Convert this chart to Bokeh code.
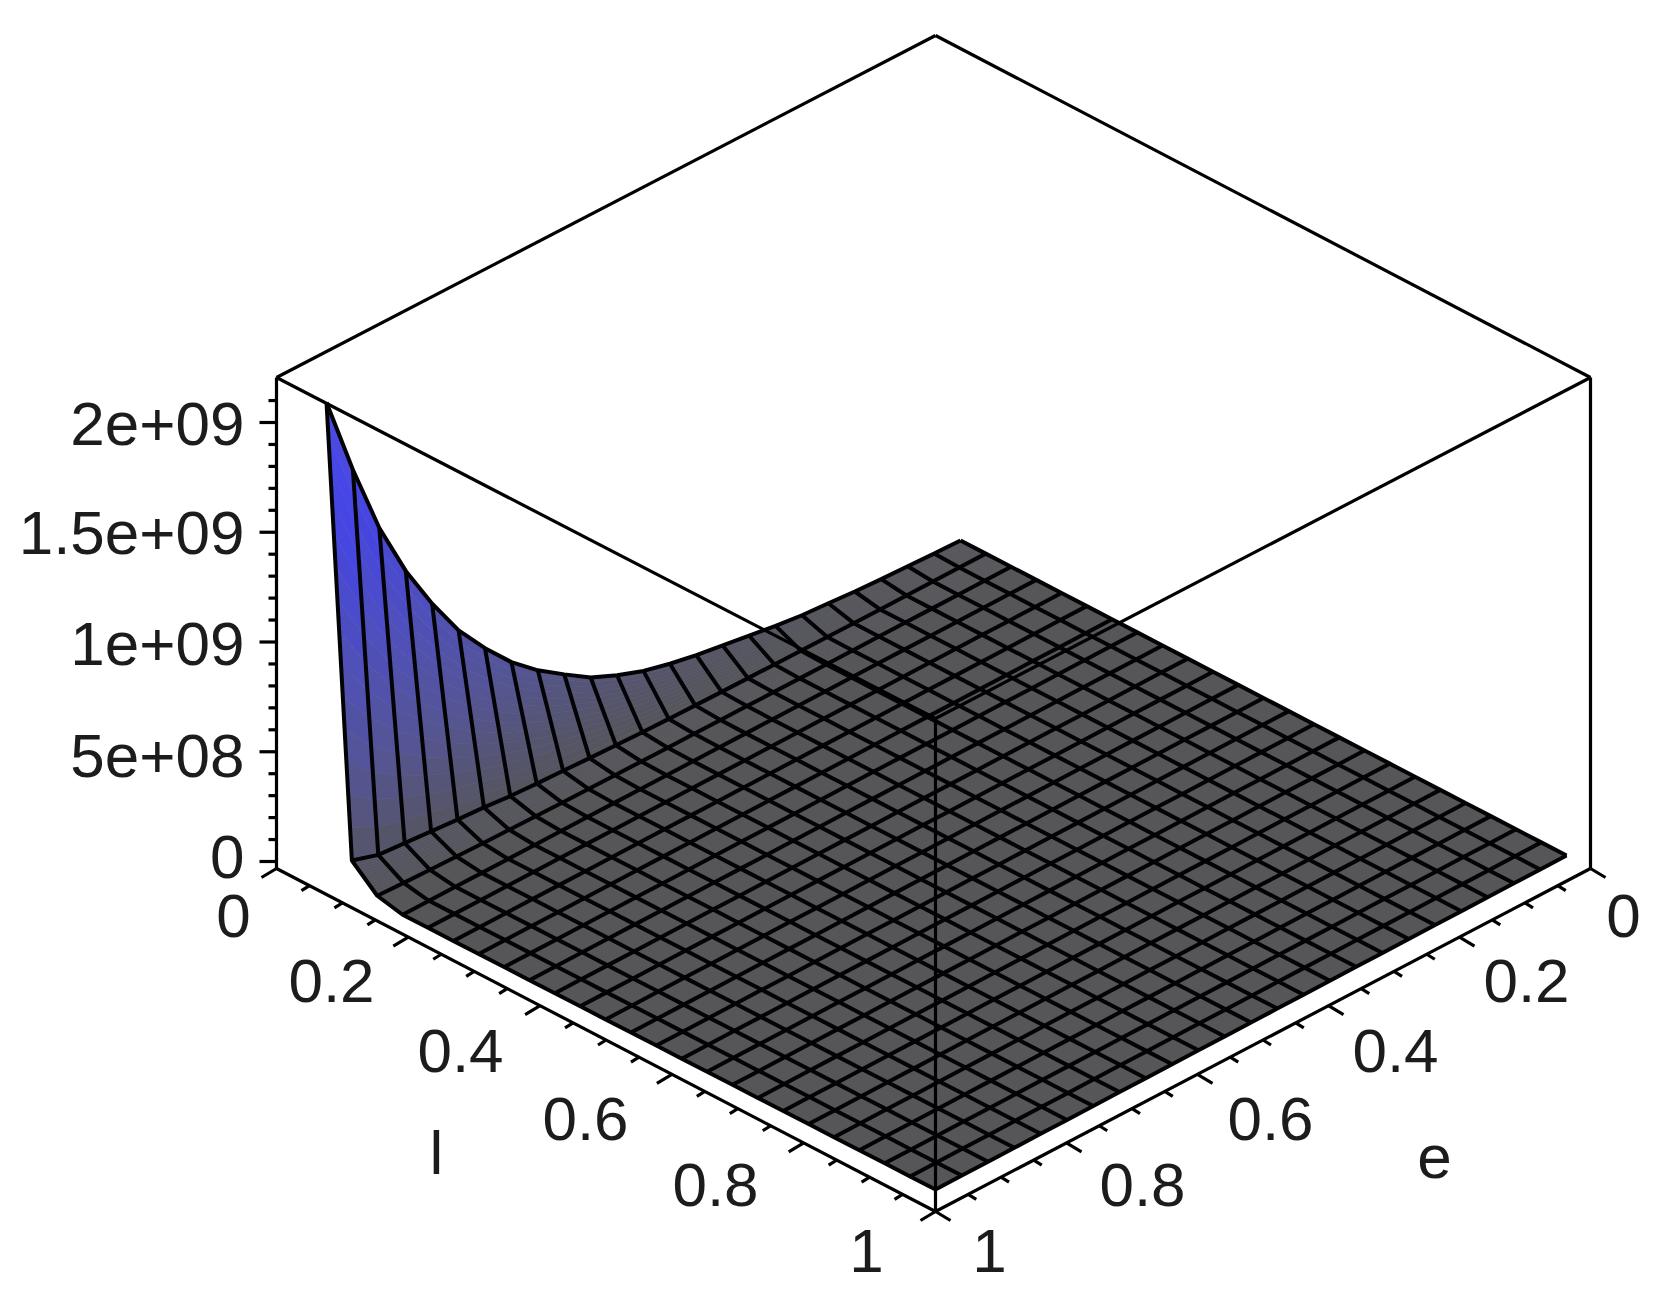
import numpy as np
from bokeh.plotting import figure
from bokeh.models import Range1d
from bokeh.core.properties import value
from bokeh.embed import file_html
from bokeh.resources import INLINE

# ---- data ----
n_grid = 25
# height of the surface along the l=0 edge, e = 0 .. 1 in 24 steps
z_l0 = [0, 0.004e9, 0.01e9, 0.015e9, 0.022e9, 0.032e9, 0.041e9, 0.056e9, 0.075e9, 0.094e9, 0.114e9, 0.138e9,
        0.169e9, 0.213e9, 0.266e9, 0.344e9, 0.426e9, 0.527e9, 0.654e9, 0.799e9, 0.984e9, 1.197e9,
        1.456e9, 1.785e9, 2.155e9]
# height along the next grid lines, l = 1/24 and l = 2/24
z_l1 = [0, 0, 0, 0, 0, 0.001e9, 0.002e9, 0.003e9, 0.004e9, 0.005e9, 0.006e9, 0.008e9, 0.01e9, 0.013e9, 0.017e9,
        0.022e9, 0.028e9, 0.033e9, 0.04e9, 0.052e9, 0.06e9, 0.07e9, 0.08e9, 0.09e9, 0.128e9]
z_l2 = [0, 0, 0, 0, 0, 0, 0, 0, 0, 0, 0.001e9, 0.001e9, 0.002e9, 0.002e9, 0.003e9, 0.004e9, 0.005e9, 0.006e9,
        0.008e9, 0.01e9, 0.012e9, 0.015e9, 0.018e9, 0.022e9, 0.027e9]
z_ticks_major = [0, 5e8, 1e9, 1.5e9, 2e9]
z_tick_labels = ["0", "5e+08", "1e+09", "1.5e+09", "2e+09"]
z_ticks_minor = [1e8, 2e8, 3e8, 4e8, 6e8, 7e8, 8e8, 9e8, 1.1e9, 1.2e9, 1.3e9, 1.4e9, 1.6e9, 1.7e9, 1.8e9, 1.9e9, 2.1e9]
ax_major = [0, 0.2, 0.4, 0.6, 0.8, 1]
ax_tick_labels = ["0", "0.2", "0.4", "0.6", "0.8", "1"]
ax_minor = [0.05, 0.1, 0.15, 0.25, 0.3, 0.35, 0.45, 0.5, 0.55, 0.65, 0.7, 0.75, 0.85, 0.9, 0.95]

# ---- layout (page pixels) ----
BOX_TOP_BACK = (935, 35)
BOX_TOP_L = (276, 377)
BOX_TOP_R = (1590, 377)
BOX_TOP_F = (935, 718)
BOX_BOT_L = (276, 868)
BOX_BOT_R = (1590, 868)
BOX_BOT_F = (935, 1211)
S_BACK = np.array([960.0, 540.0])
S_RIGHT = np.array([1566.0, 855.0])
S_FRONT = np.array([935.0, 1189.0])
S_LEFT = np.array([326.0, 875.0])
Z_PX = 219.5e-9
Z0_Y = 861

z_axis_label_x = 244
z_label_y = [856, 755, 643, 532, 423]
l_label_pos = [(233, 915), (331, 980), (460, 1050), (585, 1118), (715, 1184), (866, 1250)]
e_label_pos = [(1623, 915), (1526, 980), (1395, 1050), (1270, 1118), (1142, 1184), (989, 1250)]
TEXT = "#1c1c1c"
FONT = value("Liberation Sans")
FS = "62px"

p = figure(width=1660, height=1294, output_backend="svg", toolbar_location=None,
           x_range=Range1d(0, 1660), y_range=Range1d(1294, 0),
           min_border=0, outline_line_color=None, background_fill_color="white")
p.axis.visible = False
p.grid.visible = False


def project(l, e, z=0.0):
    base = (1 - l) * (1 - e) * S_BACK + l * (1 - e) * S_RIGHT + l * e * S_FRONT + (1 - l) * e * S_LEFT
    return float(base[0]), float(base[1] - z * Z_PX)


ls = np.linspace(0, 1, n_grid)
es = np.linspace(0, 1, n_grid)
Z = np.zeros((n_grid, n_grid))
Z[0, :] = z_l0
Z[1, :] = z_l1
Z[2, :] = z_l2

# flat part of the surface
xs, ys = [], []
for i in range(2, n_grid - 1):
    for j in range(n_grid - 1):
        pts = [project(ls[a], es[b], Z[a, b]) for a, b in ((i, j), (i + 1, j), (i + 1, j + 1), (i, j + 1))]
        xs.append([q[0] for q in pts])
        ys.append([q[1] for q in pts])
p.patches(xs, ys, fill_color="#565658", line_color="#565658", line_width=1)

# steep part: shaded by height, in bands across each grid cell
Z_STOPS = [0, 0.5e9, 1e9, 1.5e9, 1.85e9, 2.15e9]
R_STOPS = [86, 85, 80, 70, 72, 84]
B_STOPS = [90, 150, 188, 225, 235, 175]


def shade(z):
    r = int(np.interp(z, Z_STOPS, R_STOPS))
    b = int(np.interp(z, Z_STOPS, B_STOPS))
    return f"#{r:02x}{r:02x}{b:02x}"


xs, ys, cs = [], [], []
nb = 14
for i in range(2):
    for j in range(n_grid - 1):
        for t in range(nb):
            t0, t1 = t / nb, (t + 1) / nb
            l0, l1 = ls[i] + (ls[i + 1] - ls[i]) * t0, ls[i] + (ls[i + 1] - ls[i]) * t1
            za0 = Z[i, j] + (Z[i + 1, j] - Z[i, j]) * t0
            za1 = Z[i, j] + (Z[i + 1, j] - Z[i, j]) * t1
            zb0 = Z[i, j + 1] + (Z[i + 1, j + 1] - Z[i, j + 1]) * t0
            zb1 = Z[i, j + 1] + (Z[i + 1, j + 1] - Z[i, j + 1]) * t1
            pts = [project(l0, es[j], za0), project(l1, es[j], za1), project(l1, es[j + 1], zb1), project(l0, es[j + 1], zb0)]
            xs.append([q[0] for q in pts])
            ys.append([q[1] for q in pts])
            cs.append(shade((za0 + za1 + zb0 + zb1) / 4))
p.patches(xs, ys, fill_color=cs, line_color=cs, line_width=0.7)

# mesh lines
mx, my = [], []
for i in range(n_grid):
    pts = [project(ls[i], es[j], Z[i, j]) for j in range(n_grid)]
    mx.append([q[0] for q in pts]); my.append([q[1] for q in pts])
for j in range(n_grid):
    pts = [project(ls[i], es[j], Z[i, j]) for i in range(n_grid)]
    mx.append([q[0] for q in pts]); my.append([q[1] for q in pts])
p.multi_line(mx, my, line_color="#030305", line_width=4)

# box
edges = [(BOX_TOP_L, BOX_TOP_BACK), (BOX_TOP_BACK, BOX_TOP_R), (BOX_TOP_L, BOX_TOP_F), (BOX_TOP_R, BOX_TOP_F),
         (BOX_TOP_L, BOX_BOT_L), (BOX_TOP_R, BOX_BOT_R), (BOX_TOP_F, BOX_BOT_F),
         (BOX_BOT_L, BOX_BOT_F), (BOX_BOT_R, BOX_BOT_F)]
p.multi_line([[a[0], b[0]] for a, b in edges], [[a[1], b[1]] for a, b in edges], line_color="black", line_width=3.2)

# ticks
tx, ty = [], []
for v in z_ticks_major:
    y = Z0_Y - v * Z_PX
    tx.append([BOX_BOT_L[0], BOX_BOT_L[0] - 17]); ty.append([y, y])
for v in z_ticks_minor:
    y = Z0_Y - v * Z_PX
    tx.append([BOX_BOT_L[0], BOX_BOT_L[0] - 8]); ty.append([y, y])


def along(a, b, t):
    return a[0] + (b[0] - a[0]) * t, a[1] + (b[1] - a[1]) * t


for vals, dx, dy in ((ax_major, 15, 9), (ax_minor, 8, 5)):
    for v in vals:
        x, y = along(BOX_BOT_L, BOX_BOT_F, v)
        tx.append([x, x - dx]); ty.append([y, y + dy])
        x, y = along(BOX_BOT_R, BOX_BOT_F, v)
        tx.append([x, x + dx]); ty.append([y, y + dy])
p.multi_line(tx, ty, line_color="black", line_width=3.2)

# labels
p.text([z_axis_label_x] * 5, z_label_y, text=z_tick_labels, text_align="right", text_baseline="middle",
       text_font=FONT, text_font_size=FS, text_color=TEXT)
for pos in (l_label_pos, e_label_pos):
    p.text([q[0] for q in pos], [q[1] for q in pos], text=ax_tick_labels, text_align="center",
           text_baseline="middle", text_font=FONT, text_font_size=FS, text_color=TEXT)
p.text([436, 1434], [1152, 1156], text=["l", "e"], text_align="center", text_baseline="middle",
       text_font=FONT, text_font_size=FS, text_color=TEXT)

open("out.html", "w").write(file_html(p, INLINE))
